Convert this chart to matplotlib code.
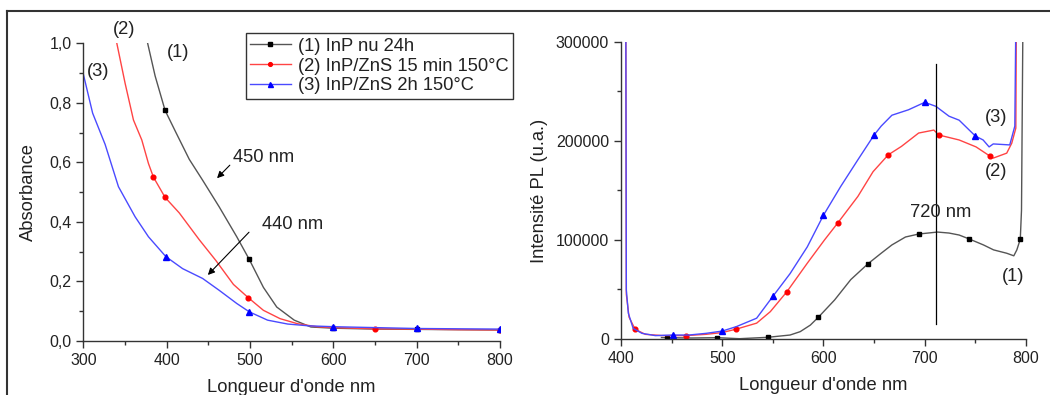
import matplotlib
matplotlib.use("Agg")
import matplotlib.pyplot as plt
from matplotlib.ticker import MultipleLocator, FuncFormatter
from matplotlib.lines import Line2D

plt.rcParams['font.family'] = ['Liberation Sans', 'DejaVu Sans']

# ---------------- Absorbance data ----------------
abs_wl1 = [377, 386, 398, 411, 427, 443, 463, 484, 499, 516, 532, 553, 573, 600, 650, 700, 750, 800]
abs1 = [1.0, 0.89, 0.774, 0.70, 0.61, 0.54, 0.45, 0.35, 0.274, 0.18, 0.114, 0.07, 0.047,
        0.043, 0.04, 0.039, 0.038, 0.037]
abs1_marks = [2, 8, 13, 15, 17]

abs_wl2 = [340, 350, 360, 370, 378, 384, 398, 415, 439, 459, 480, 498, 516, 536, 557, 580,
           600, 650, 700, 750, 800]
abs2 = [1.0, 0.865, 0.742, 0.675, 0.596, 0.55, 0.482, 0.43, 0.34, 0.27, 0.19, 0.145, 0.103,
        0.075, 0.058, 0.048, 0.045, 0.041, 0.04, 0.038, 0.037]
abs2_marks = [5, 6, 11, 17, 20]

abs_wl3 = [300, 311, 326, 342, 362, 378, 399, 419, 443, 463, 484, 499, 521, 545, 570, 600,
           650, 700, 750, 800]
abs3 = [0.894, 0.765, 0.66, 0.518, 0.417, 0.35, 0.283, 0.243, 0.21, 0.17, 0.126, 0.098,
        0.07, 0.057, 0.051, 0.048, 0.045, 0.042, 0.041, 0.04]
abs3_marks = [6, 11, 15, 17, 19]

# ---------------- PL data ----------------
pl_wl1 = [440, 445, 470, 495, 517, 545, 567, 577, 587, 595, 611, 627, 644, 657, 667.6, 681,
          694, 712.6, 724, 734, 744, 758, 768, 781, 788, 791, 794.4, 795.6, 797]
pl1 = [1500, 1350, 1000, 1350, 300, 1700, 4000, 7400, 14000, 22000, 39400, 60000, 76000,
       86600, 95000, 103000, 106000, 108000, 107000, 105000, 101000, 95000, 90000, 86600,
       84000, 90000, 100800, 130000, 320000]
pl1_marks = [1, 3, 5, 9, 12, 16, 20, 26]

pl_wl2 = [404.8, 405.3, 408, 414, 424, 440, 464, 484, 500, 514, 534, 547.5, 564, 584, 601,
          614, 634, 649, 664, 677, 694, 709, 714, 734, 750.7, 764, 767.7, 781, 786, 790, 790.5]
pl2 = [320000, 45000, 22000, 9800, 4700, 3500, 3400, 4700, 6500, 10000, 16000, 27600, 47900,
       76500, 100000, 117000, 144000, 169000, 186000, 194500, 208000, 211000, 206000, 201000,
       194000, 185000, 182700, 187700, 197800, 213000, 320000]
pl2_marks = [3, 6, 9, 12, 15, 18, 22, 25]

pl_wl3 = [404.8, 405.3, 407.3, 412, 420.7, 434, 451, 467, 484, 500, 514, 534, 550, 567, 584,
          600, 617, 634, 650, 657, 667.6, 684, 700, 711, 724, 734, 750, 757.7, 763.6, 767.7,
          784, 789, 790]
pl3 = [320000, 49500, 26000, 10800, 5700, 3400, 4000, 4000, 5700, 8000, 12500, 21000, 43000,
       66000, 93000, 125000, 154000, 181000, 206000, 215000, 226000, 231500, 239000, 235000,
       225000, 221000, 205000, 201000, 194000, 197000, 196000, 215000, 320000]
pl3_marks = [6, 9, 12, 15, 18, 22, 26]

legend_labels = ["(1) InP nu 24h", "(2) InP/ZnS 15 min 150°C", "(3) InP/ZnS 2h 150°C"]

C1_LINE, C1_MK = '#555555', 'black'
C2_LINE, C2_MK = '#ff4444', 'red'
C3_LINE, C3_MK = '#4a4aff', 'blue'

fig = plt.figure(figsize=(10.5, 3.95), dpi=100)
ax1 = fig.add_axes([0.0795, 0.1367, 0.3967, 0.754])
ax2 = fig.add_axes([0.5914, 0.1418, 0.3857, 0.752])

TICK_FS = 11.5
LAB_FS = 13.2
TXT_COL = '#222222'
MS_SQ, MS_CI, MS_TR = 3.2, 3.4, 4.5


def style(ax):
    for s in ['top', 'right']:
        ax.spines[s].set_visible(False)
    for s in ['left', 'bottom']:
        ax.spines[s].set_color('#333333')
        ax.spines[s].set_linewidth(1.0)
    ax.tick_params(which='major', direction='out', length=5, width=1, colors='#333333',
                   labelsize=TICK_FS, labelcolor=TXT_COL)
    ax.tick_params(which='minor', direction='out', length=3, width=1, colors='#333333')


# ---------- left: absorbance ----------
l1, = ax1.plot(abs_wl1, abs1, color=C1_LINE, lw=1.0, marker='s', ms=MS_SQ, mfc=C1_MK, mec=C1_MK,
               markevery=abs1_marks)
l2, = ax1.plot(abs_wl2, abs2, color=C2_LINE, lw=1.0, marker='o', ms=MS_CI, mfc=C2_MK, mec=C2_MK,
               markevery=abs2_marks)
l3, = ax1.plot(abs_wl3, abs3, color=C3_LINE, lw=1.0, marker='^', ms=MS_TR, mfc=C3_MK, mec=C3_MK,
               markevery=abs3_marks)
ax1.set_xlim(300, 800)
ax1.set_ylim(0, 1.0)
ax1.xaxis.set_major_locator(MultipleLocator(100))
ax1.xaxis.set_minor_locator(MultipleLocator(50))
ax1.yaxis.set_major_locator(MultipleLocator(0.2))
ax1.yaxis.set_minor_locator(MultipleLocator(0.1))
ax1.yaxis.set_major_formatter(FuncFormatter(lambda v, p: f"{v:.1f}".replace('.', ',')))
style(ax1)
ax1.set_xlabel("Longueur d'onde nm", fontsize=LAB_FS, labelpad=8, color=TXT_COL)
ax1.set_ylabel("Absorbance", fontsize=LAB_FS, labelpad=9, color=TXT_COL)

ax1.text(414, 0.97, "(1)", fontsize=LAB_FS, ha='center', va='center', color=TXT_COL)
ax1.text(349, 1.045, "(2)", fontsize=LAB_FS, ha='center', va='center', color=TXT_COL,
         clip_on=False)
ax1.text(317, 0.905, "(3)", fontsize=LAB_FS, ha='center', va='center', color=TXT_COL)
ax1.annotate("", xy=(458, 0.54), xytext=(478, 0.597),
             arrowprops=dict(arrowstyle='-|>', color='black', lw=0.8, mutation_scale=10))
ax1.text(479, 0.617, "450 nm", fontsize=LAB_FS, ha='left', va='center', color=TXT_COL)
ax1.annotate("", xy=(447, 0.215), xytext=(501, 0.372),
             arrowprops=dict(arrowstyle='-|>', color='black', lw=0.8, mutation_scale=10))
ax1.text(514, 0.39, "440 nm", fontsize=LAB_FS, ha='left', va='center', color=TXT_COL)

# ---------- right: PL ----------
ax2.plot(pl_wl1, pl1, color=C1_LINE, lw=1.0, marker='s', ms=MS_SQ, mfc=C1_MK, mec=C1_MK,
         markevery=pl1_marks)
ax2.plot(pl_wl2, pl2, color=C2_LINE, lw=1.0, marker='o', ms=MS_CI, mfc=C2_MK, mec=C2_MK,
         markevery=pl2_marks)
ax2.plot(pl_wl3, pl3, color=C3_LINE, lw=1.0, marker='^', ms=MS_TR, mfc=C3_MK, mec=C3_MK,
         markevery=pl3_marks)
ax2.set_xlim(400, 800)
ax2.set_ylim(0, 300000)
ax2.xaxis.set_major_locator(MultipleLocator(100))
ax2.xaxis.set_minor_locator(MultipleLocator(50))
ax2.yaxis.set_major_locator(MultipleLocator(100000))
ax2.yaxis.set_minor_locator(MultipleLocator(50000))
ax2.yaxis.set_major_formatter(FuncFormatter(lambda v, p: f"{int(round(v))}"))
style(ax2)
ax2.set_xlabel("Longueur d'onde nm", fontsize=LAB_FS, labelpad=8, color=TXT_COL)
ax2.set_ylabel("Intensité PL (u.a.)", fontsize=LAB_FS, labelpad=6, color=TXT_COL)

ax2.plot([711.6, 711.6], [14800, 278000], color='black', lw=0.9)
ax2.text(716, 128000, "720 nm", fontsize=LAB_FS, ha='center', va='center', color=TXT_COL)
ax2.text(771, 224000, "(3)", fontsize=LAB_FS, ha='center', va='center', color=TXT_COL)
ax2.text(771, 169000, "(2)", fontsize=LAB_FS, ha='center', va='center', color=TXT_COL)
ax2.text(787.6, 63000, "(1)", fontsize=LAB_FS, ha='center', va='center', color=TXT_COL)

# ---------- legend ----------
leg = fig.legend([l1, l2, l3], legend_labels, loc='upper left',
                 bbox_to_anchor=(0.234, 0.916), borderaxespad=0, fontsize=13.2,
                 frameon=True, fancybox=False, edgecolor='black', handlelength=2.2,
                 handletextpad=0.4, labelspacing=0.15, borderpad=0.25,
                 markerscale=0.8)
leg.get_frame().set_linewidth(1.0)
for t in leg.get_texts():
    t.set_color(TXT_COL)

# ---------- outer frame lines ----------
fig.add_artist(Line2D([7 / 1050, 1.0], [1 - 11 / 395, 1 - 11 / 395], transform=fig.transFigure,
                      color='#333333', lw=1.5))
fig.add_artist(Line2D([7 / 1050, 7 / 1050], [0, 1 - 11 / 395], transform=fig.transFigure,
                      color='#333333', lw=1.5))

fig.savefig("out.png", dpi=100)
